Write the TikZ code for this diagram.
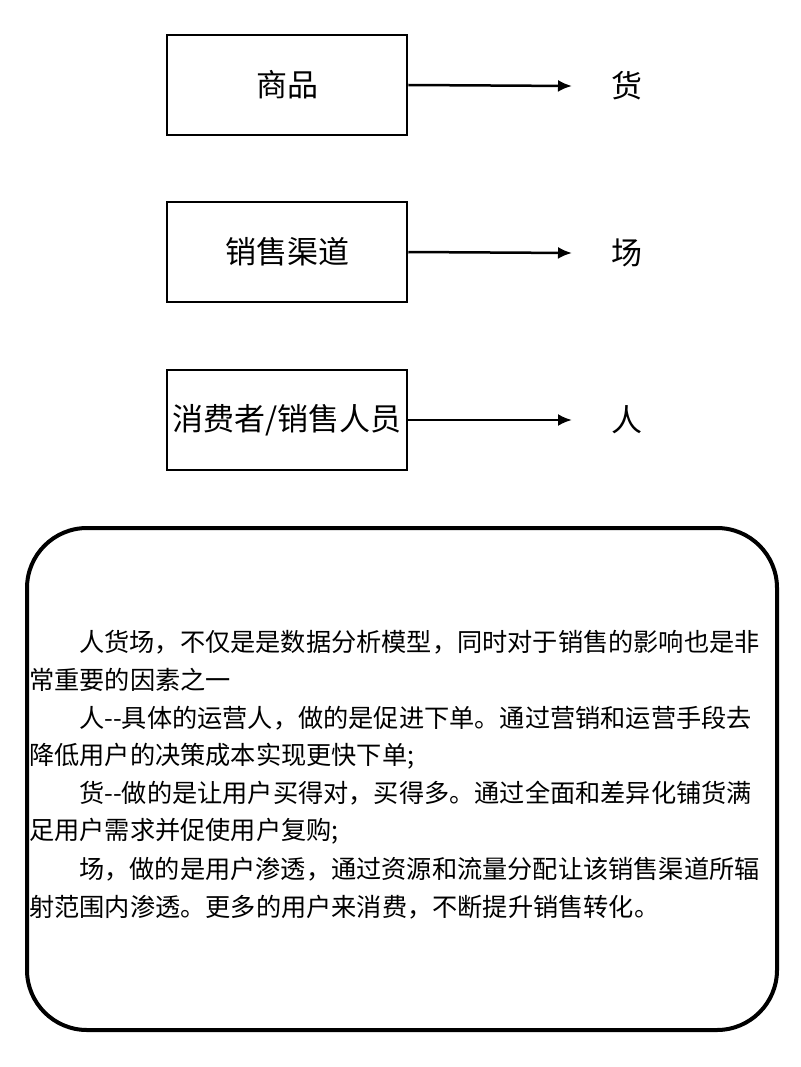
\documentclass[tikz,border=0pt]{standalone}
\usepackage{fontspec}
\setmainfont{Noto Sans CJK SC}
\usetikzlibrary{arrows.meta}
\begin{document}
\begin{tikzpicture}[x=1pt,y=-1pt,
  bx/.style={draw,line width=2.5pt,minimum width=240pt,minimum height=100pt,font=\fontsize{31}{31}\selectfont,inner sep=0pt},
  lb/.style={font=\fontsize{31}{31}\selectfont},
  ar/.style={line width=2.5pt,-{Latex[length=14pt,width=12pt]}},
  tl/.style={anchor=west,font=\fontsize{25.2}{25.2}\selectfont,inner sep=0pt}]
\useasboundingbox (0,0) rectangle (800,1067);
\node[bx] (b1) at (287,85) {商品};
\node[bx] (b2) at (287,252) {销售渠道};
\node[bx] (b3) at (287,420) {消费者/销售人员};
\node[lb] (l1) at (627,86) {货};
\node[lb] (l2) at (627,253) {场};
\node[lb] (l3) at (627,420) {人};
\coordinate (e1) at (572,86);
\coordinate (e2) at (572,253);
\coordinate (e3) at (572,420);
\draw[ar] (b1.east) -- (e1);
\draw[ar] (b2.east) -- (e2);
\draw[ar] (b3.east) -- (e3);
\draw[line width=4pt,rounded corners=60pt] (27,528) rectangle (777,1030);
\node[tl] (t1) at (79,642) {人货场，不仅是是数据分析模型，同时对于销售的影响也是非};
\node[tl] (t2) at (29,680) {常重要的因素之一};
\node[tl] (t3) at (79,718) {人{-}{-}具体的运营人，做的是促进下单。通过营销和运营手段去};
\node[tl] (t4) at (29,756) {降低用户的决策成本实现更快下单;};
\node[tl] (t5) at (79,793) {货{-}{-}做的是让用户买得对，买得多。通过全面和差异化铺货满};
\node[tl] (t6) at (29,831) {足用户需求并促使用户复购;};
\node[tl] (t7) at (79,869) {场，做的是用户渗透，通过资源和流量分配让该销售渠道所辐};
\node[tl] (t8) at (29,907) {射范围内渗透。更多的用户来消费，不断提升销售转化。};
\end{tikzpicture}
\end{document}
